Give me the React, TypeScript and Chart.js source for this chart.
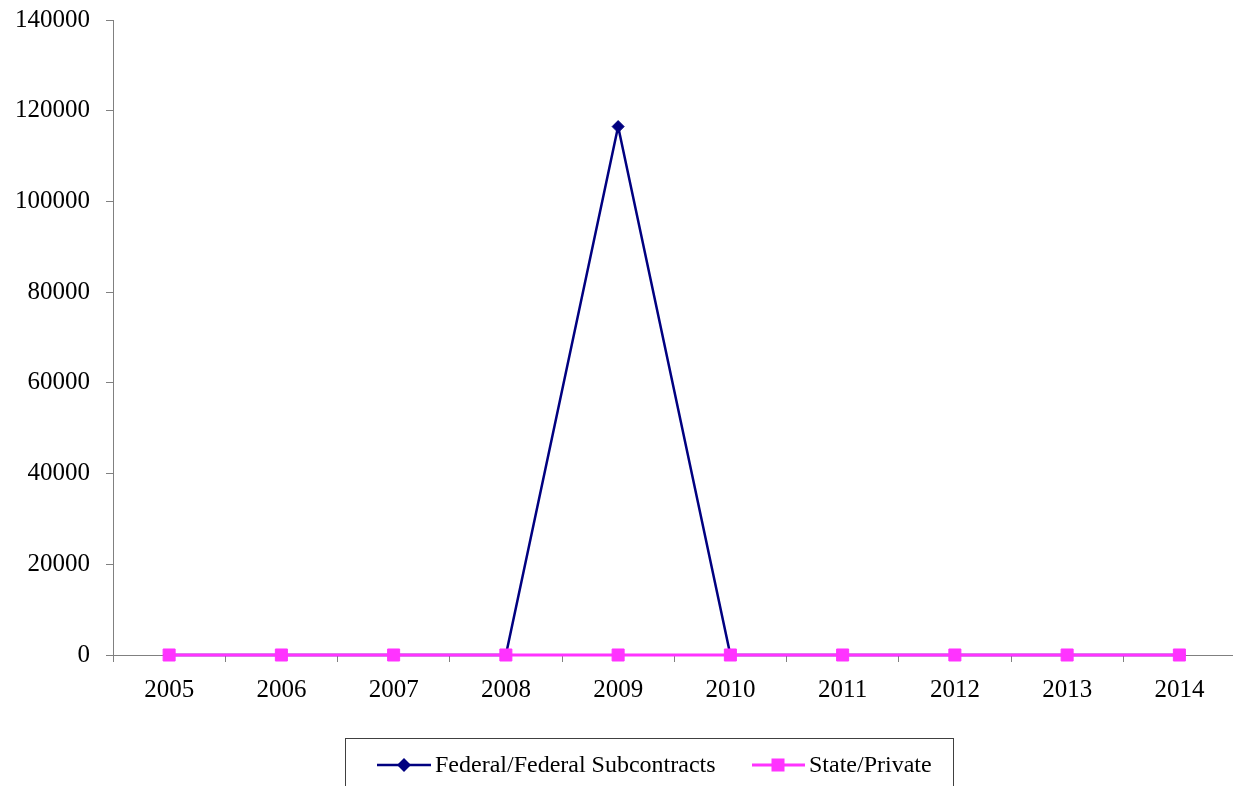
import React, { useEffect, useRef } from "react";
import { Chart, registerables } from "chart.js";

Chart.register(...registerables);

const years = ["2005", "2006", "2007", "2008", "2009", "2010", "2011", "2012", "2013", "2014"];
const federalValues = [0, 0, 0, 0, 116500, 0, 0, 0, 0, 0];
const statePrivateValues = [0, 0, 0, 0, 0, 0, 0, 0, 0, 0];
const seriesNames = ["Federal/Federal Subcontracts", "State/Private"];
const yMax = 140000;
const yStep = 20000;

const FONT = '"Liberation Serif", "Times New Roman", serif';
const BLUE = "#000080";
const PINK = "#ff33ff";
const AXIS = "#808080";
const W = 1245;
const H = 800;

const legendPlugin = {
  id: "excelLegend",
  afterDraw(chart: any) {
    const ctx = chart.ctx as CanvasRenderingContext2D;
    ctx.save();
    ctx.strokeStyle = "#404040";
    ctx.lineWidth = 1;
    ctx.strokeRect(345.5, 738.5, 608, 70);
    const y = 765;
    ctx.strokeStyle = BLUE;
    ctx.lineWidth = 2.5;
    ctx.beginPath();
    ctx.moveTo(377, y);
    ctx.lineTo(431, y);
    ctx.stroke();
    ctx.fillStyle = BLUE;
    ctx.beginPath();
    ctx.moveTo(404, y - 7);
    ctx.lineTo(411, y);
    ctx.lineTo(404, y + 7);
    ctx.lineTo(397, y);
    ctx.closePath();
    ctx.fill();
    ctx.fillStyle = "#000";
    ctx.font = `24px ${FONT}`;
    ctx.textBaseline = "middle";
    ctx.textAlign = "left";
    ctx.fillText(seriesNames[0], 435, y + 1);
    ctx.strokeStyle = PINK;
    ctx.lineWidth = 3;
    ctx.beginPath();
    ctx.moveTo(752, y);
    ctx.lineTo(805, y);
    ctx.stroke();
    ctx.fillStyle = PINK;
    ctx.fillRect(778 - 6.5, y - 6.5, 13, 13);
    ctx.fillStyle = "#000";
    ctx.fillText(seriesNames[1], 809, y + 1);
    ctx.restore();
  },
};

export default function App() {
  const ref = useRef<HTMLCanvasElement>(null);
  useEffect(() => {
    if (!ref.current) return;
    const chart = new Chart(ref.current, {
      type: "line",
      data: {
        labels: years,
        datasets: [
          {
            label: seriesNames[0],
            data: federalValues,
            borderColor: BLUE,
            backgroundColor: BLUE,
            borderWidth: 2.5,
            pointStyle: "rectRot",
            pointRadius: 6,
            pointBorderWidth: 1,
            pointBackgroundColor: BLUE,
            pointBorderColor: BLUE,
            tension: 0,
            clip: false,
            order: 1,
          },
          {
            label: seriesNames[1],
            data: statePrivateValues,
            borderColor: PINK,
            backgroundColor: PINK,
            borderWidth: 3,
            pointStyle: "rect",
            pointRadius: 8.5,
            pointBorderWidth: 1,
            pointBackgroundColor: PINK,
            pointBorderColor: PINK,
            tension: 0,
            clip: false,
            order: 0,
          },
        ],
      },
      options: {
        responsive: false,
        animation: false,
        layout: { padding: { top: 20, right: 0, left: 0, bottom: 0 } },
        plugins: {
          legend: { display: false },
          tooltip: { enabled: false },
        },
        scales: {
          x: {
            type: "category",
            offset: true,
            grid: {
              offset: true,
              drawOnChartArea: false,
              drawTicks: true,
              tickLength: 7,
              color: AXIS,
            },
            border: { color: AXIS, width: 1 },
            ticks: {
              color: "#000",
              font: { family: FONT, size: 25 },
              padding: 13,
              maxRotation: 0,
              autoSkip: false,
            },
            afterFit: (s: any) => {
              s.height = H - 655;
              s.paddingLeft = 0;
              s.paddingRight = 0;
              s.paddingTop = 0;
              s.paddingBottom = 0;
            },
          },
          y: {
            min: 0,
            max: yMax,
            grid: {
              drawOnChartArea: false,
              drawTicks: true,
              tickLength: 7,
              color: AXIS,
            },
            border: { color: AXIS, width: 1 },
            ticks: {
              stepSize: yStep,
              color: "#000",
              font: { family: FONT, size: 25 },
              padding: 16,
              callback: (v: any) => String(v),
            },
            afterFit: (s: any) => {
              s.width = 113;
              s.paddingLeft = 0;
              s.paddingRight = 0;
              s.paddingTop = 0;
              s.paddingBottom = 0;
            },
          },
        },
      },
      plugins: [legendPlugin],
    });
    return () => chart.destroy();
  }, []);
  return (
    <div
      style={{
        position: "fixed",
        left: 0,
        top: 0,
        width: 1233,
        height: 786,
        overflow: "hidden",
        background: "#fff",
      }}
    >
      <canvas ref={ref} width={W} height={H} style={{ width: W, height: H, display: "block" }} />
    </div>
  );
}
